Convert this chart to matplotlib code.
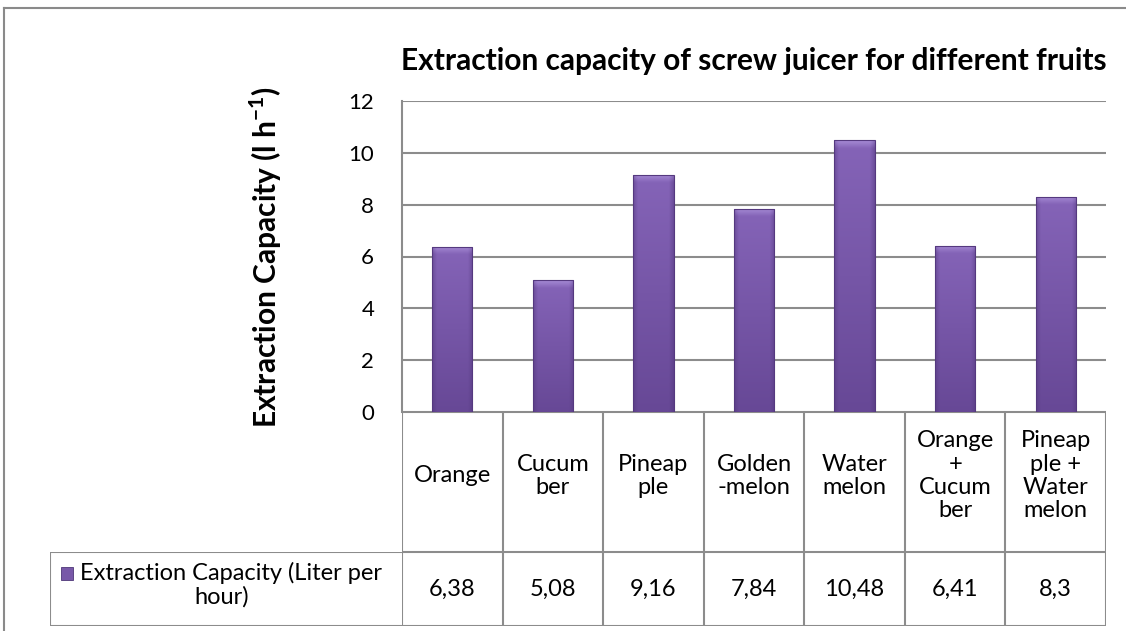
import matplotlib
matplotlib.use("Agg")
import matplotlib.pyplot as plt
import numpy as np
from matplotlib.colors import to_rgb
from matplotlib.patches import Rectangle
from matplotlib.lines import Line2D

categories = ["Orange", "Cucum\nber", "Pineap\nple", "Golden\n-melon", "Water\nmelon",
              "Orange\n+\nCucum\nber", "Pineap\nple +\nWater\nmelon"]
values = [6.38, 5.08, 9.16, 7.84, 10.48, 6.41, 8.3]
series_name = "Extraction Capacity (Liter per\nhour)"
title = "Extraction capacity of screw juicer for different fruits"
ylabel = "Extraction Capacity (l h$^{\\mathbf{-1}}$)"
yticks = [0, 2, 4, 6, 8, 10, 12]

plt.rcParams['font.family'] = ['Lato', 'DejaVu Sans']
plt.rcParams['mathtext.fontset'] = 'custom'
plt.rcParams['mathtext.rm'] = 'Lato'
plt.rcParams['mathtext.bf'] = 'Lato:bold'
W, H = 1126, 631
fig = plt.figure(figsize=(W / 100, H / 100), dpi=100)
grey = "#8c8c8c"

def fx(px):
    return px / W

def fy(py):
    return 1 - py / H

# outer border
fig.add_artist(Line2D([fx(4), 1], [fy(8), fy(8)], color="#8a8a8a", lw=1.5, transform=fig.transFigure))
fig.add_artist(Line2D([fx(4), fx(4)], [fy(8), 0], color="#8a8a8a", lw=1.5, transform=fig.transFigure))

L, R = 402, 1106
T, B = 101, 412
ax = fig.add_axes([fx(L), fy(B), fx(R) - fx(L), fy(T) - fy(B)])
x = np.arange(len(values))
ax.set_xlim(-0.5, len(values) - 0.5)
ax.set_ylim(0, 12)
ax.set_yticks(yticks)
ax.set_yticklabels([str(t) for t in yticks], fontsize=16)
ax.set_xticks([])
ax.tick_params(axis='y', length=0, pad=20)
for s in ["top", "right", "bottom"]:
    ax.spines[s].set_visible(False)
ax.spines["left"].set_color(grey)
ax.spines["left"].set_linewidth(1.5)
ax.yaxis.grid(True, color=grey, lw=1.5)
ax.set_axisbelow(True)

bars = ax.bar(x, values, width=0.4, color="#7858a8", edgecolor="none", zorder=3)

# bevel-like shading image
nx, ny = 80, 200
u = np.linspace(0, 1, nx)
edge = np.clip(np.minimum(u, 1 - u) / 0.12, 0, 1)
top_c = np.array(to_rgb("#8564b8"))
bot_c = np.array(to_rgb("#674896"))
dark = np.array(to_rgb("#4f3578"))
for b in bars:
    x0, w, h = b.get_x(), b.get_width(), b.get_height()
    v = np.linspace(1, 0, ny)[:, None, None]  # 1 at top row
    base = bot_c + (top_c - bot_c) * v
    e = edge[None, :, None]
    img = dark + (base - dark) * (0.55 + 0.45 * e)
    top_px = 0.3 / h
    vv = np.linspace(1, 0, ny)[:, None]
    bev = np.clip((vv - (1 - top_px)) / top_px, 0, 1)[:, :, None]
    img = img + (np.array(to_rgb("#a58ad4")) - img) * bev * (0.5 + 0.5 * e)
    im = ax.imshow(np.clip(img, 0, 1), extent=[x0, x0 + w, 0, h], aspect='auto', zorder=3.5,
                   interpolation='bilinear')
    im.set_clip_path(b)
    ax.add_patch(Rectangle((x0, 0), w, h, fill=False, edgecolor="#55397f", lw=0.8, zorder=4))

ax.set_ylabel(ylabel, fontsize=21.5, fontweight='bold')
ax.yaxis.set_label_coords((284 - L) / (R - L), 0.5)
fig.text(fx(754), fy(61), title, fontsize=21.5, fontweight='bold', ha='center', va='center')

# header row of data table
hdr_b = 552
hax = fig.add_axes([fx(L), fy(hdr_b), fx(R) - fx(L), fy(B) - fy(hdr_b)])
hax.set_xlim(-0.5, len(values) - 0.5)
hax.set_ylim(0, 1)
hax.axis('off')
for i in range(len(values) + 1):
    hax.axvline(i - 0.5, color=grey, lw=1.5)
hax.axhline(0, color=grey, lw=1.5)
hax.axhline(1, color=grey, lw=1.5)
for i, c in enumerate(categories):
    hax.text(i, 0.545, c, ha='center', va='center', fontsize=17, linespacing=1.13)

# data row
dr_b = 626
dax = fig.add_axes([fx(L), fy(dr_b), fx(R) - fx(L), fy(hdr_b) - fy(dr_b)])
dax.set_xlim(-0.5, len(values) - 0.5)
dax.set_ylim(0, 1)
dax.axis('off')
for i in range(len(values) + 1):
    dax.axvline(i - 0.5, color=grey, lw=1.5)
dax.axhline(0, color=grey, lw=1.5)
dax.axhline(1, color=grey, lw=1.5)
for i, v in enumerate(values):
    dax.text(i, 0.5, str(v).replace('.', ','), ha='center', va='center', fontsize=17)

# legend cell
LL = 50
lw_ = L - LL
lax = fig.add_axes([fx(LL), fy(dr_b), fx(L) - fx(LL), fy(hdr_b) - fy(dr_b)])
lax.set_xlim(0, 1)
lax.set_ylim(0, 1)
lax.axis('off')
lax.axvline(0, color=grey, lw=1.5)
lax.axhline(0, color=grey, lw=1.5)
lax.axhline(1, color=grey, lw=1.5)
line1, line2 = series_name.split("\n")
lax.text((80 - LL) / lw_, (626 - 573) / 74, line1, ha='left', va='center', fontsize=17)
lax.text((222 - LL) / lw_, (626 - 597) / 74, line2, ha='center', va='center', fontsize=17)
lax.add_patch(Rectangle(((61 - LL) / lw_, (626 - 580) / 74), 12 / lw_, 13 / 74,
                        facecolor="#7858a8", edgecolor="#4e3678", lw=0.6))

fig.savefig("out.png", dpi=100)
